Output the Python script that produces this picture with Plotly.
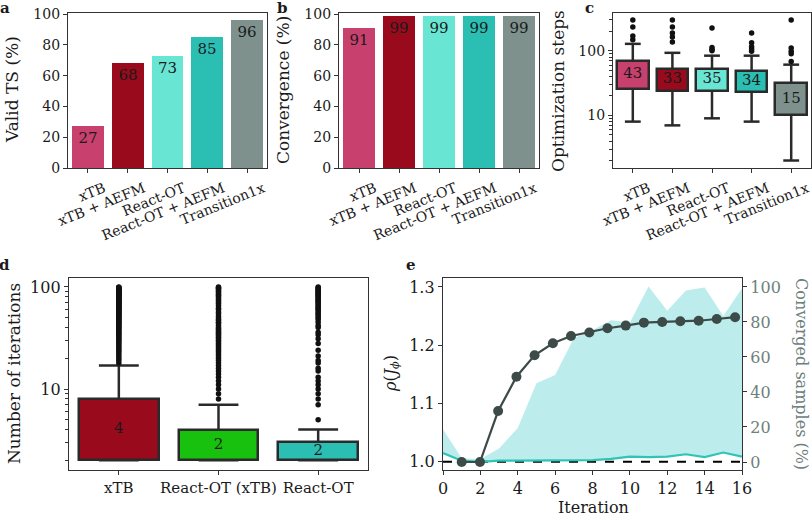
import math
import plotly.graph_objects as go

# ---------------- data ----------------
methods = ["xTB", "xTB + AEFM", "React-OT", "React-OT + AEFM", "Transition1x"]
method_colors = ["#c8406e", "#990a1d", "#69e6d3", "#2bbfb4", "#7e918d"]
valid_ts = [27, 68, 73, 85, 96]
convergence = [91, 99, 99, 99, 99]

# panel c: optimization steps (box statistics)
c_q1 = [26, 24, 24, 23, 10]
c_q3 = [70, 53, 53, 49, 32]
c_median = [43, 33, 35, 34, 15]
c_low = [8, 7, 9, 8, 2]
c_high = [128, 93, 84, 84, 61]
c_outliers = [
    [148, 170, 234, 300],
    [137, 164, 189, 234, 300],
    [100, 105, 112, 226],
    [98, 107, 115, 133, 189],
    [68, 90, 98, 110, 300],
]

# panel d: number of iterations
d_methods = ["xTB", "React-OT (xTB)", "React-OT"]
d_colors = ["#990a1d", "#19c10f", "#2bbfb4"]
d_q1 = [2, 2, 2]
d_q3 = [8, 4, 3]
d_median = [4, 2, 2]
d_low = [2, 2, 2]
d_high = [17, 7, 4]
d_outliers = [
    [18, 19, 20, 21, 22, 23, 24, 25, 26, 27, 28, 29, 30, 31, 32, 33, 34, 35, 36, 37, 38, 39, 40,
     41, 42, 43, 44, 45, 46, 47, 48, 49, 50, 51, 52, 53, 54, 55, 56, 57, 58, 59, 60, 61, 62, 63,
     64, 65, 66, 67, 68, 69, 70, 71, 72, 73, 74, 75, 76, 77, 78, 79, 80, 81, 82, 83, 84, 85, 86,
     87, 88, 89, 90, 91, 92, 93, 94, 95, 96, 97, 98, 99, 100],
    [8, 9, 10, 11, 12, 13, 14, 15, 16, 17, 18, 19, 20, 21, 22, 23, 24, 25, 26, 27, 28, 29, 30,
     31, 32, 33, 34, 35, 36, 37, 38, 39, 40, 42, 44, 45, 47, 48, 50, 52, 55, 57, 60, 62, 65, 68,
     70, 73, 75, 78, 80, 83, 85, 88, 90, 92, 95, 97, 99, 100],
    [5, 7, 8, 9, 10, 11, 12, 13, 15, 16, 18, 19, 21, 24, 28, 31, 34, 36, 40, 42, 45, 48, 50,
     52, 54, 56, 58, 60, 62, 64, 66, 68, 70, 72, 74, 76, 78, 80, 82, 84, 86, 88, 90, 92, 94,
     96, 98, 100],
]

# panel e
iters = [0, 1, 2, 3, 4, 5, 6, 7, 8, 9, 10, 11, 12, 13, 14, 15, 16]
rho_max = [1.056, 1.006, 1.005, 1.023, 1.058, 1.135, 1.149, 1.212, 1.226, 1.243, 1.239,
           1.301, 1.259, 1.294, 1.299, 1.250, 1.298]
rho_min = [1.015, 1.002, 1.000, 1.002, 1.002, 1.002, 1.002, 1.002, 1.003, 1.005, 1.009,
           1.008, 1.009, 1.013, 1.008, 1.016, 1.009]
conv_x = [1, 1.98, 2.95, 3.93, 4.9, 5.88, 6.85, 7.83, 8.8, 9.78, 10.75, 11.73, 12.7,
          13.68, 14.65, 15.63]
conv_pct = [0, 0, 29.1, 48.7, 61.0, 67.8, 72.0, 74.0, 76.4, 77.9, 79.6, 80.0, 80.4,
            80.7, 81.7, 82.7]

# ---------------- styling ----------------
W, H = 812, 516
FONT = "DejaVu Serif"
INK = "#1a1a1a"
SPINE = "#333333"
DARK = "#2a2a2a"
E_DARK = "#3c4a48"
E_FILL = "#bdeced"
E_LINE = "#2ec5b6"
E_RIGHT = "#6d807d"


def dx(a, b):
    return [a / W, b / W]


def dy(top, bottom):
    return [1 - bottom / H, 1 - top / H]


def axis(**kw):
    base = dict(showline=True, linecolor=SPINE, linewidth=1.3, mirror=True,
                ticks="outside", ticklen=4, tickwidth=1.2, tickcolor=SPINE,
                showgrid=False, zeroline=False, automargin=False,
                tickfont=dict(size=14, color=INK))
    base.update(kw)
    return base


fig = go.Figure()

idx5 = list(range(len(methods)))
idx3 = list(range(len(d_methods)))

# ---- a ----
fig.add_trace(go.Bar(x=idx5, y=valid_ts, marker=dict(color=method_colors, line=dict(width=0)),
                     width=0.8, text=[str(v) for v in valid_ts], textposition="inside",
                     insidetextanchor="end", textangle=0, constraintext="none",
                     textfont=dict(size=15, color=INK), xaxis="x", yaxis="y",
                     showlegend=False, hoverinfo="skip"))
# ---- b ----
fig.add_trace(go.Bar(x=idx5, y=convergence, marker=dict(color=method_colors, line=dict(width=0)),
                     width=0.8, text=[str(v) for v in convergence], textposition="inside",
                     insidetextanchor="end", textangle=0, constraintext="none",
                     textfont=dict(size=15, color=INK), xaxis="x2", yaxis="y2",
                     showlegend=False, hoverinfo="skip"))


def add_boxes(idx, q1, q3, med, low, high, outl, colors, xa, ya, cap=0.2, msize=5.5):
    wx, wy = [], []
    for i in idx:
        wx += [i, i, None, i, i, None, i - cap, i + cap, None, i - cap, i + cap, None]
        wy += [q3[i], high[i], None, q1[i], low[i], None, high[i], high[i], None,
               low[i], low[i], None]
    fig.add_trace(go.Scatter(x=wx, y=wy, mode="lines", line=dict(color=DARK, width=2.5),
                             xaxis=xa, yaxis=ya, showlegend=False, hoverinfo="skip"))
    ox, oy = [], []
    for i in idx:
        ox += [i] * len(outl[i])
        oy += outl[i]
    fig.add_trace(go.Scatter(x=ox, y=oy, mode="markers",
                             marker=dict(color="#111111", size=msize, line=dict(width=0)),
                             xaxis=xa, yaxis=ya, showlegend=False, hoverinfo="skip"))
    fig.add_trace(go.Bar(x=idx, y=[q3[i] - q1[i] for i in idx], base=q1, width=0.8,
                         marker=dict(color=colors, line=dict(color=DARK, width=2.5)),
                         xaxis=xa, yaxis=ya, showlegend=False, hoverinfo="skip"))
    fig.add_trace(go.Scatter(x=idx, y=[math.sqrt(q1[i] * q3[i]) for i in idx],
                             text=[str(m) for m in med], mode="text",
                             textfont=dict(size=15, color=INK), textposition="middle center",
                             xaxis=xa, yaxis=ya, showlegend=False, hoverinfo="skip"))


# ---- c ----
add_boxes(idx5, c_q1, c_q3, c_median, c_low, c_high, c_outliers, method_colors, "x3", "y3")
# ---- d ----
add_boxes(idx3, d_q1, d_q3, d_median, d_low, d_high, d_outliers, d_colors, "x4", "y4", msize=5.5)

# ---- e ----
fig.add_trace(go.Scatter(x=iters, y=rho_min, mode="lines", line=dict(width=0, color=E_FILL),
                         xaxis="x5", yaxis="y5", showlegend=False, hoverinfo="skip"))
fig.add_trace(go.Scatter(x=iters, y=rho_max, mode="lines", line=dict(width=0, color=E_FILL),
                         fill="tonexty", fillcolor=E_FILL,
                         xaxis="x5", yaxis="y5", showlegend=False, hoverinfo="skip"))
fig.add_trace(go.Scatter(x=[iters[0], iters[-1]], y=[1.0, 1.0], mode="lines",
                         line=dict(color="#000000", width=2, dash="dash"),
                         xaxis="x5", yaxis="y5", showlegend=False, hoverinfo="skip"))
fig.add_trace(go.Scatter(x=iters, y=rho_min, mode="lines", line=dict(width=2.2, color=E_LINE),
                         xaxis="x5", yaxis="y5", showlegend=False, hoverinfo="skip"))
fig.add_trace(go.Scatter(x=conv_x, y=conv_pct, mode="lines+markers",
                         line=dict(width=2.2, color=E_DARK),
                         marker=dict(size=10, color=E_DARK),
                         xaxis="x5", yaxis="y6", showlegend=False, hoverinfo="skip"))

minor_c = [2, 3, 4, 5, 6, 7, 8, 9, 20, 30, 40, 50, 60, 70, 80, 90, 200, 300]
minor_d = [2, 3, 4, 5, 6, 7, 8, 9, 20, 30, 40, 50, 60, 70, 80, 90]

cat_axis = dict(range=[-0.5, 4.5], tickvals=idx5, ticktext=methods, tickangle=-22,
                ticklabelshift=16, ticklabelstandoff=2)

fig.update_layout(
    width=W, height=H, margin=dict(l=0, r=0, t=0, b=0, autoexpand=False),
    paper_bgcolor="white", plot_bgcolor="white",
    font=dict(family=FONT, color=INK, size=14),
    bargap=0,
    xaxis=axis(domain=dx(68, 267), anchor="y", **cat_axis),
    yaxis=axis(domain=dy(13, 168), anchor="x", range=[0, 100.8],
               tickvals=[0, 20, 40, 60, 80, 100]),
    xaxis2=axis(domain=dx(339, 539), anchor="y2", **cat_axis),
    yaxis2=axis(domain=dy(13, 168), anchor="x2", range=[0, 100.8],
                tickvals=[0, 20, 40, 60, 80, 100]),
    xaxis3=axis(domain=dx(613, 811), anchor="y3", **cat_axis),
    yaxis3=axis(domain=dy(13, 168), anchor="x3", type="log", range=[0.185, 2.585],
                tickvals=[10, 100], ticktext=["10", "100"],
                minor=dict(tickvals=minor_c, ticks="outside", ticklen=2.5, tickwidth=1,
                           tickcolor=SPINE)),
    xaxis4=axis(domain=dx(69, 368), anchor="y4", range=[-0.5, 2.5], tickvals=idx3,
                ticktext=d_methods, tickangle=0, tickfont=dict(size=15, color=INK)),
    yaxis4=axis(domain=dy(278, 470), anchor="x4", type="log", range=[0.206, 2.088],
                tickvals=[10, 100], ticktext=["10", "100"], tickfont=dict(size=16, color=INK),
                minor=dict(tickvals=minor_d, ticks="outside", ticklen=2.5, tickwidth=1,
                           tickcolor=SPINE)),
    xaxis5=axis(domain=dx(443, 742), anchor="y5", range=[0, 16],
                tickvals=[0, 2, 4, 6, 8, 10, 12, 14, 16], tickfont=dict(size=16, color=INK)),
    yaxis5=axis(domain=dy(278, 470), anchor="x5", range=[0.986, 1.3154],
                tickvals=[1.0, 1.1, 1.2, 1.3], ticktext=["1.0", "1.1", "1.2", "1.3"],
                tickfont=dict(size=16, color=INK)),
    yaxis6=axis(domain=dy(278, 470), anchor="x5", overlaying="y5", side="right",
                range=[-4.57, 105.1], tickvals=[0, 20, 40, 60, 80, 100], mirror=False,
                tickfont=dict(size=16, color=E_RIGHT)),
)

ann = []


def text(x, y, s, size=16, angle=0, color=INK):
    ann.append(dict(x=x / W, y=1 - y / H, xref="paper", yref="paper", text=s,
                    showarrow=False, xanchor="center", yanchor="middle", textangle=angle,
                    font=dict(size=size, color=color, family=FONT)))


# panel letters
for ch, x, y in [("a", 5, 8), ("b", 282, 8), ("c", 589, 8), ("d", 4, 265), ("e", 411, 265)]:
    text(x, y, "<b>%s</b>" % ch, size=15)

# axis titles
text(12, 90, "Valid TS (%)", size=17, angle=-90)
text(283, 90, "Convergence (%)", size=17, angle=-90)
text(558, 91, "Optimization steps", size=17, angle=-90)
text(14, 374, "Number of iterations", size=17, angle=-90)
text(391, 374, "<i>ρ</i>(<i>J</i><sub><i>ϕ</i></sub>)", size=16, angle=-90)
text(802, 374, "Converged samples (%)", size=16, angle=90, color=E_RIGHT)
text(593, 507, "Iteration", size=16)

fig.update_layout(annotations=ann)

fig.write_html("out.html")
